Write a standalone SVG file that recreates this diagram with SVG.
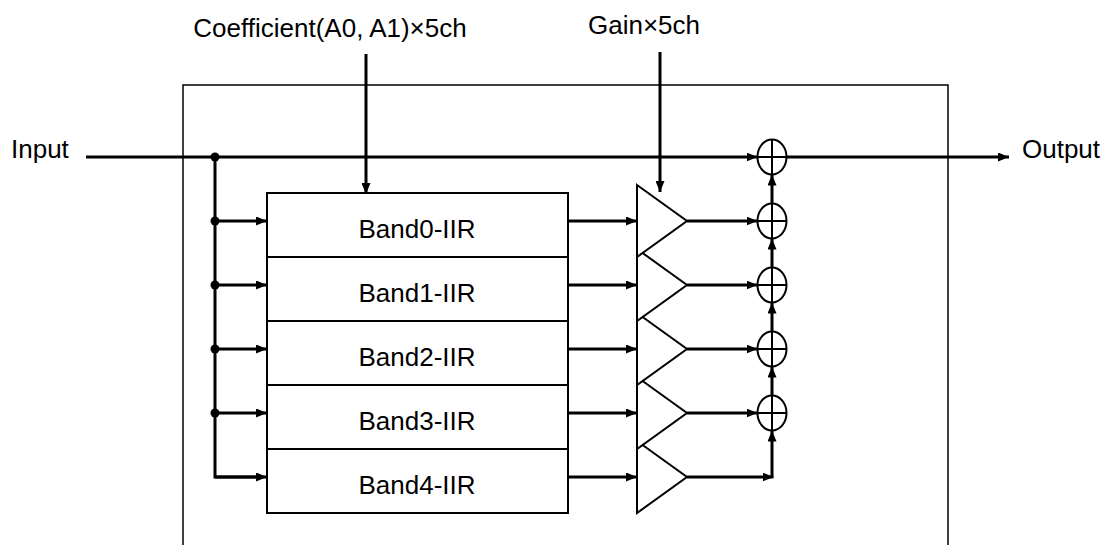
<svg xmlns="http://www.w3.org/2000/svg" width="1108" height="545" viewBox="0 0 1108 545">
<style>
text{font-family:"Liberation Sans",Arial,sans-serif;font-size:26px;fill:#000}
.c{text-anchor:middle}
.frame{fill:none;stroke:#000;stroke-width:1.5}
.box{fill:#fff;stroke:#000;stroke-width:2}
.tri{fill:#fff;stroke:#000;stroke-width:2}
.add{fill:#fff;stroke:#000;stroke-width:2}
.w{fill:none;stroke:#000;stroke-width:3}
.wa{fill:none;stroke:#000;stroke-width:3;marker-end:url(#ah)}
.dot{fill:#000}
</style>
<defs>
<marker id="ah" markerUnits="userSpaceOnUse" markerWidth="11" markerHeight="9" refX="11" refY="4.5" orient="auto">
<path d="M0,0 L11,4.5 L0,9 z" fill="#000"/>
</marker>
</defs>
<rect width="1108" height="545" fill="#fff"/>
<path class="frame" d="M183,547 V85 H948 V547"/>
<g id="labels">
<text class="c" x="330" y="37">Coefficient(A0, A1)×5ch</text>
<text class="c" x="644" y="34">Gain×5ch</text>
<text x="11" y="158">Input</text>
<text x="1022" y="158">Output</text>
</g>
<g id="band0"><rect class="box" x="267" y="193" width="301" height="64"/><text class="c" x="417" y="238">Band0-IIR</text></g>
<g id="band1"><rect class="box" x="267" y="257" width="301" height="64"/><text class="c" x="417" y="302">Band1-IIR</text></g>
<g id="band2"><rect class="box" x="267" y="321" width="301" height="64"/><text class="c" x="417" y="366">Band2-IIR</text></g>
<g id="band3"><rect class="box" x="267" y="385" width="301" height="64"/><text class="c" x="417" y="430">Band3-IIR</text></g>
<g id="band4"><rect class="box" x="267" y="449" width="301" height="64"/><text class="c" x="417" y="494">Band4-IIR</text></g>
<g id="gain4"><polygon class="tri" points="637,441 687,477 637,513"/></g>
<g id="gain3"><polygon class="tri" points="637,377 687,413 637,449"/></g>
<g id="gain2"><polygon class="tri" points="637,313 687,349 637,385"/></g>
<g id="gain1"><polygon class="tri" points="637,249 687,285 637,321"/></g>
<g id="gain0"><polygon class="tri" points="637,185 687,221 637,257"/></g>
<g id="add0"><ellipse class="add" cx="772" cy="157" rx="14.5" ry="17.5"/><path class="add" d="M757.5,157 H786.5 M772,139.5 V174.5"/></g>
<g id="add1"><ellipse class="add" cx="772" cy="221" rx="14.5" ry="17.5"/><path class="add" d="M757.5,221 H786.5 M772,203.5 V238.5"/></g>
<g id="add2"><ellipse class="add" cx="772" cy="285" rx="14.5" ry="17.5"/><path class="add" d="M757.5,285 H786.5 M772,267.5 V302.5"/></g>
<g id="add3"><ellipse class="add" cx="772" cy="349" rx="14.5" ry="17.5"/><path class="add" d="M757.5,349 H786.5 M772,331.5 V366.5"/></g>
<g id="add4"><ellipse class="add" cx="772" cy="413" rx="14.5" ry="17.5"/><path class="add" d="M757.5,413 H786.5 M772,395.5 V430.5"/></g>
<g id="connectors">
<path class="wa" d="M86,157 H757.5"/>
<path class="wa" d="M786.5,157 H1009"/>
<path class="wa" d="M366,54 V194"/>
<path class="wa" d="M660,52 V192"/>
<path class="w" d="M215,157 V477 H258"/>
<path class="wa" d="M215,477 H267"/>
<path class="wa" d="M215,221 H267"/>
<path class="wa" d="M215,285 H267"/>
<path class="wa" d="M215,349 H267"/>
<path class="wa" d="M215,413 H267"/>
<circle class="dot" cx="215" cy="157" r="4.5"/>
<circle class="dot" cx="215" cy="221" r="4.5"/>
<circle class="dot" cx="215" cy="285" r="4.5"/>
<circle class="dot" cx="215" cy="349" r="4.5"/>
<circle class="dot" cx="215" cy="413" r="4.5"/>
<path class="wa" d="M568,221 H637"/>
<path class="wa" d="M568,285 H637"/>
<path class="wa" d="M568,349 H637"/>
<path class="wa" d="M568,413 H637"/>
<path class="wa" d="M568,477 H637"/>
<path class="wa" d="M687,221 H757.5"/>
<path class="wa" d="M687,285 H757.5"/>
<path class="wa" d="M687,349 H757.5"/>
<path class="wa" d="M687,413 H757.5"/>
<path class="wa" d="M687,477 H773.5"/>
<path class="wa" d="M772,477 V430.5"/>
<path class="wa" d="M772,395.5 V366.5"/>
<path class="wa" d="M772,331.5 V302.5"/>
<path class="wa" d="M772,267.5 V238.5"/>
<path class="wa" d="M772,203.5 V174.5"/>
</g>
</svg>
